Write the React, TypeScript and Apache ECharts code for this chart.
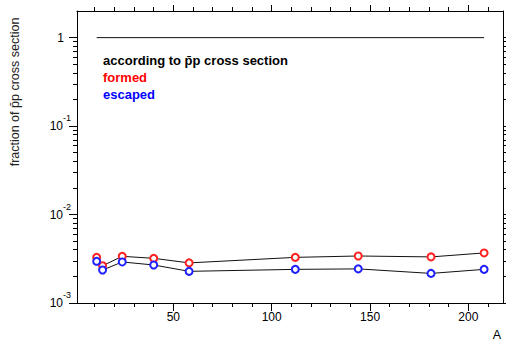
import React, { useEffect, useRef } from 'react';
import * as echarts from 'echarts';

// Mass number A of the target nuclei
const massNumbers = [11, 14, 24, 40, 58, 112, 144, 181, 208];
// fraction of p̄p cross section, "formed"
const formedValues = [0.00328, 0.00264, 0.00337, 0.0032, 0.00284, 0.00328, 0.0034, 0.00332, 0.00368];
// fraction of p̄p cross section, "escaped"
const escapedValues = [0.00296, 0.00236, 0.00291, 0.00269, 0.00228, 0.0024, 0.00243, 0.00216, 0.0024];
// reference line "according to p̄p cross section"
const referenceX = [11, 208];
const referenceY = [1, 1];

const xMajorTicks = [50, 100, 150, 200];
const xMinorTicks = [10, 20, 30, 40, 60, 70, 80, 90, 110, 120, 130, 140, 160, 170, 180, 190, 210];
const yMajorTicks = [0.001, 0.01, 0.1, 1];
const yMinorTicks = [
  0.002, 0.003, 0.004, 0.005, 0.006, 0.007, 0.008, 0.009,
  0.02, 0.03, 0.04, 0.05, 0.06, 0.07, 0.08, 0.09,
  0.2, 0.3, 0.4, 0.5, 0.6, 0.7, 0.8, 0.9,
];

const FONT = '"Liberation Sans", Arial, sans-serif';
const X_MIN = 1;
const X_MAX = 217.6;
const Y_MIN = 0.001;
const Y_MAX = 2;

export default function App() {
  const ref = useRef<HTMLDivElement>(null);

  useEffect(() => {
    if (!ref.current) return;
    const chart = echarts.init(ref.current, null, { renderer: 'svg' });

    const axisLine = { show: true, lineStyle: { color: '#000', width: 1 } };
    const noSplit = { show: false };

    const xAxisBase = (position: string, ticks: number[], len: number, labels: boolean, line: boolean) => ({
      type: 'value',
      gridIndex: 0,
      position,
      min: X_MIN,
      max: X_MAX,
      axisLine: line ? axisLine : { show: false },
      splitLine: noSplit,
      axisTick: { show: true, inside: false, length: len, customValues: ticks, lineStyle: { color: '#000', width: 1 } },
      axisLabel: labels
        ? { show: true, customValues: ticks, fontSize: 12, fontFamily: FONT, color: '#000', margin: 8 }
        : { show: false },
    });

    const yAxisBase = (position: string, ticks: number[], len: number, labels: boolean, line: boolean) => ({
      type: 'log',
      logBase: 10,
      gridIndex: 0,
      position,
      min: Y_MIN,
      max: Y_MAX,
      axisLine: line ? axisLine : { show: false },
      splitLine: noSplit,
      axisTick: { show: true, inside: false, length: len, customValues: ticks, lineStyle: { color: '#000', width: 1 } },
      axisLabel: labels
        ? {
            show: true,
            customValues: ticks,
            margin: 6,
            align: 'right',
            formatter: (v: number) => {
              if (v > 0.5) return '{b|1}{sp|}';
              const e = Math.round(Math.log10(v));
              return '{b|10}{s|' + e + '}';
            },
            rich: {
              b: { fontSize: 12, fontFamily: FONT, color: '#000', lineHeight: 14, verticalAlign: 'middle' },
              s: { fontSize: 9, fontFamily: FONT, color: '#000', lineHeight: 10, padding: [0, 0, 16, 0], verticalAlign: 'middle' },
              sp: { width: 7, lineHeight: 10 },
            },
          }
        : { show: false },
    });

    const seriesData = (ys: number[]) => massNumbers.map((a, i) => [a, ys[i]]);

    chart.setOption({
      animation: false,
      backgroundColor: '#fff',
      grid: { left: 77, top: 11, right: 3, bottom: 38, containLabel: false },
      xAxis: [
        xAxisBase('bottom', xMajorTicks, 8, true, true),
        xAxisBase('bottom', xMinorTicks, 4, false, false),
        xAxisBase('top', xMajorTicks, 6, false, true),
        xAxisBase('top', xMinorTicks, 4, false, false),
      ],
      yAxis: [
        yAxisBase('left', yMajorTicks, 8, true, true),
        yAxisBase('left', yMinorTicks, 4, false, false),
        yAxisBase('right', yMajorTicks, 8, false, true),
        yAxisBase('right', yMinorTicks, 4, false, false),
      ],
      series: [
        {
          name: 'according to p̄p cross section',
          type: 'line',
          xAxisIndex: 0,
          yAxisIndex: 0,
          data: referenceX.map((a, i) => [a, referenceY[i]]),
          showSymbol: false,
          symbol: 'none',
          lineStyle: { color: '#111', width: 1 },
          silent: true,
        },
        {
          name: 'formed',
          type: 'line',
          xAxisIndex: 0,
          yAxisIndex: 0,
          data: seriesData(formedValues),
          symbol: 'emptyCircle',
          symbolSize: 7,
          itemStyle: { color: '#ff2020', borderColor: '#ff2020', borderWidth: 0.9 },
          lineStyle: { color: '#111', width: 1 },
          silent: true,
        },
        {
          name: 'escaped',
          type: 'line',
          xAxisIndex: 0,
          yAxisIndex: 0,
          data: seriesData(escapedValues),
          symbol: 'emptyCircle',
          symbolSize: 7,
          itemStyle: { color: '#2020ff', borderColor: '#2020ff', borderWidth: 0.9 },
          lineStyle: { color: '#111', width: 1 },
          silent: true,
        },
      ],
      graphic: [
        {
          type: 'text',
          x: 15,
          y: 92,
          rotation: Math.PI / 2,
          style: {
            text: 'fraction of p̄p cross section',
            fontSize: 12.5,
            fontFamily: FONT,
            fill: '#222',
            align: 'center',
            verticalAlign: 'middle',
          },
        },
        {
          type: 'text',
          x: 497,
          y: 335,
          style: { text: 'A', fontSize: 12.5, fontFamily: FONT, fill: '#000', align: 'center', verticalAlign: 'middle' },
        },
        {
          type: 'text',
          x: 103,
          y: 60,
          style: {
            text: 'according to p̄p cross section',
            fontSize: 13,
            fontWeight: 'bold',
            fontFamily: FONT,
            fill: '#000',
            align: 'left',
            verticalAlign: 'middle',
          },
        },
        {
          type: 'text',
          x: 103,
          y: 77.3,
          style: { text: 'formed', fontSize: 13, fontWeight: 'bold', fontFamily: FONT, fill: '#ff0000', align: 'left', verticalAlign: 'middle' },
        },
        {
          type: 'text',
          x: 103,
          y: 94.3,
          style: { text: 'escaped', fontSize: 13, fontWeight: 'bold', fontFamily: FONT, fill: '#0000ff', align: 'left', verticalAlign: 'middle' },
        },
      ],
    });

    return () => chart.dispose();
  }, []);

  return (
    <div
      ref={ref}
      style={{ position: 'absolute', left: 0, top: 0, width: 506, height: 341, background: '#fff' }}
    />
  );
}
